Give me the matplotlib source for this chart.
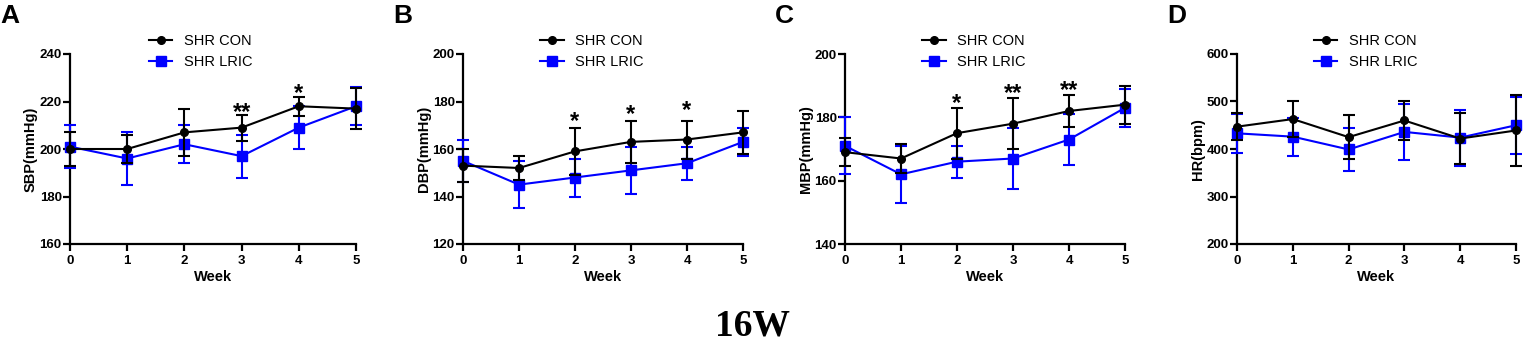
import matplotlib
matplotlib.use("Agg")
import matplotlib.pyplot as plt
from matplotlib.lines import Line2D

plt.rcParams['font.family'] = ['Liberation Sans', 'DejaVu Sans']

weeks = [0, 1, 2, 3, 4, 5]

# A - SBP
sbp_con = [200, 200, 207, 209, 218, 217]
sbp_con_err = [7, 6, 10, 5.5, 4, 8.5]
sbp_lric = [201, 196, 202, 197, 209, 218]
sbp_lric_err = [9, 11, 8, 9, 9, 8]

# B - DBP
dbp_con = [153, 152, 159, 163, 164, 167]
dbp_con_err = [7, 5, 10, 9, 8, 9]
dbp_lric = [155, 145, 148, 151, 154, 163]
dbp_lric_err = [9, 10, 8, 10, 7, 6]

# C - MBP
mbp_con = [169, 167, 175, 178, 182, 184]
mbp_con_err = [4.5, 4.5, 8, 8, 5, 6]
mbp_lric = [171, 162, 166, 167, 173, 183]
mbp_lric_err = [9, 9, 5, 9.5, 8, 6]

# D - HR
hr_con = [447, 463, 425, 460, 422, 439]
hr_con_err = [28, 37, 47, 41, 54, 75]
hr_lric = [433, 426, 399, 436, 424, 450]
hr_lric_err = [41, 40, 45, 59, 59, 60]

panels = [
    ("A", "SBP(mmHg)", (160, 240), [160, 180, 200, 220, 240],
     sbp_con, sbp_con_err, sbp_lric, sbp_lric_err,
     [(3, 215.5, "**"), (4, 223.5, "*")]),
    ("B", "DBP(mmHg)", (120, 200), [120, 140, 160, 180, 200],
     dbp_con, dbp_con_err, dbp_lric, dbp_lric_err,
     [(2, 171.5, "*"), (3, 174.5, "*"), (4, 176, "*")]),
    ("C", "MBP(mmHg)", (140, 200), [140, 160, 180, 200],
     mbp_con, mbp_con_err, mbp_lric, mbp_lric_err,
     [(2, 184.5, "*"), (3, 187.5, "**"), (4, 188.5, "**")]),
    ("D", "HR(bpm)", (200, 600), [200, 300, 400, 500, 600],
     hr_con, hr_con_err, hr_lric, hr_lric_err, []),
]

# axes boxes in pixels: left, right
boxes = [(70, 356), (463, 743), (845, 1125), (1237, 1516)]
W, H = 1535, 345
top_px, bot_px = 54, 244
blue = '#0000ff'

fig = plt.figure(figsize=(W / 100, H / 100), dpi=100)

for (letter, ylab, ylim, yticks, con, con_e, lric, lric_e, stars), (l, r) in zip(panels, boxes):
    ax = fig.add_axes([l / W, 1 - bot_px / H, (r - l) / W, (bot_px - top_px) / H])
    ax.errorbar(weeks, lric, yerr=lric_e, color=blue, marker='s', markersize=7,
                linewidth=1.5, elinewidth=1.5, capsize=4.5, capthick=1.5,
                clip_on=False, zorder=3)
    ax.errorbar(weeks, con, yerr=con_e, color='black', marker='o', markersize=5.5,
                linewidth=1.5, elinewidth=1.5, capsize=4.5, capthick=1.5,
                clip_on=False, zorder=4)
    for x, y, s in stars:
        ax.text(x, y, s, ha='center', va='center', fontsize=17, fontweight='bold')
    ax.set_xlim(0, 5)
    ax.set_ylim(*ylim)
    ax.set_xticks(weeks)
    ax.set_yticks(yticks)
    for s in ['top', 'right']:
        ax.spines[s].set_visible(False)
    for s in ['left', 'bottom']:
        ax.spines[s].set_linewidth(1.6)
    ax.tick_params(width=1.6, length=5, labelsize=9.5)
    ax.tick_params(axis='x', pad=3)
    ax.tick_params(axis='y', pad=1)
    for t in ax.get_xticklabels() + ax.get_yticklabels():
        t.set_fontweight('bold')
    ax.set_xlabel('Week', fontsize=10.5, fontweight='bold', labelpad=2)
    ax.set_ylabel(ylab, fontsize=10.5, fontweight='bold', labelpad=1)
    handles = [
        Line2D([], [], color='black', marker='o', markersize=5.5, linewidth=1.5),
        Line2D([], [], color=blue, marker='s', markersize=7, linewidth=1.5),
    ]
    ax.legend(handles, ['SHR CON', 'SHR LRIC'], loc='upper left',
              bbox_to_anchor=((143 - 70) / 286, 1.135), frameon=False,
              fontsize=10.5, handlelength=1.6, handletextpad=0.8, labelspacing=0.45,
              borderaxespad=0)
    fig.text((l - 70) / W, 1 - 16 / H, letter, fontsize=19, fontweight='bold',
             ha='left', va='center')

fig.text(752 / W, 1 - 326 / H, '16W', fontsize=27, fontweight='bold',
         family='Liberation Serif', ha='center', va='center')

fig.savefig('out.png', dpi=100)
